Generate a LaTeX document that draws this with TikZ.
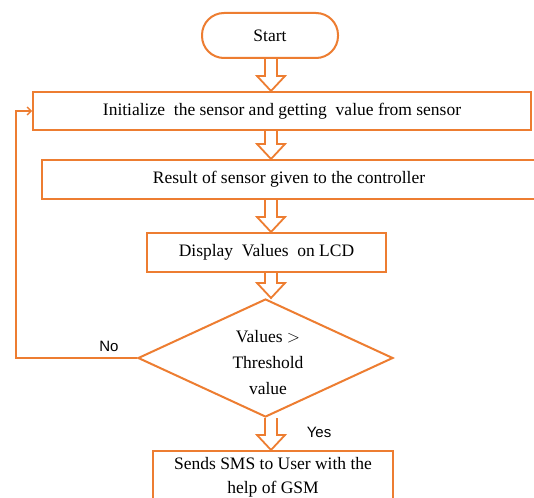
\documentclass[tikz,border=0pt]{standalone}
\usepackage{fontspec}
\setmainfont{Liberation Serif}
\newfontfamily\yesnofont{Liberation Sans}
\usetikzlibrary{shapes.geometric,calc,arrows.meta}
\definecolor{floworange}{RGB}{237,125,49}

\tikzset{
  proctext/.style={inner sep=0pt, align=center, font=\fontsize{17.5}{26}\selectfont},
  procbox/.style={proctext, draw=floworange, line width=2pt, fill=white},
  startbox/.style={procbox, rounded corners=22pt, minimum width=136pt, minimum height=45pt},
  decision/.style={procbox, diamond, aspect=2.16, minimum width=255pt, minimum height=118pt},
  loopline/.style={draw=floworange, line width=1.3pt, -{Straight Barb[length=4pt,width=8pt]}},
  yesno/.style={font=\yesnofont\fontsize{15}{18}\selectfont}
}

% hollow block arrow from one step down to the next
\newcommand{\hollowarrow}[2]{%
  \draw[floworange, line width=1.8pt, line join=miter]
    let \p1=(#1.south -| spine), \p2=(#2.north -| spine) in
    (\x1-6pt,\y1) -- (\x1-6pt,\y2+15pt) -- (\x1-14pt,\y2+15pt) -- (\x2,\y2)
    -- (\x1+14pt,\y2+15pt) -- (\x1+6pt,\y2+15pt) -- (\x1+6pt,\y1);}

\begin{document}
\begin{tikzpicture}[x=1pt,y=-1pt]
  \useasboundingbox (0,0) rectangle (534,497);
  \clip (0,0) rectangle (534,497);
  \coordinate (spine) at (271,0);
  \coordinate (bend) at (16,0);

  \node[startbox] (start) at (270,35.5) {Start};
  \node[procbox, minimum width=498pt, minimum height=38pt] (init) at (282,111)
    {Initialize\ \ the sensor and getting\ \ value from sensor};
  \node[procbox, minimum width=494pt, minimum height=39pt] (result) at (289,179.5)
    {Result of sensor given to the controller};
  \node[procbox, minimum width=239pt, minimum height=39pt] (lcd) at (266.5,252.5)
    {Display\ \ Values\ \ on LCD};
  \node[decision] (check) at (265.5,358) {};
  \node[proctext] (checktext) at (268,363) {Values $>$\\Threshold\\value};
  \node[procbox, anchor=north, minimum width=240pt, inner ysep=6pt, text depth=30pt,
    font=\fontsize{17.5}{24}\selectfont] (sms) at (273,450)
    {Sends SMS to User with the\\help of GSM};

  \hollowarrow{start}{init}
  \hollowarrow{init}{result}
  \hollowarrow{result}{lcd}
  \hollowarrow{lcd}{check}
  \hollowarrow{check}{sms}

  \draw[loopline] (check.west) -- (check.west -| bend) |- (init.west);
  \node[yesno] (nolabel) at (109,346) {No};
  \node[yesno] (yeslabel) at (319,432) {Yes};
\end{tikzpicture}
\end{document}
